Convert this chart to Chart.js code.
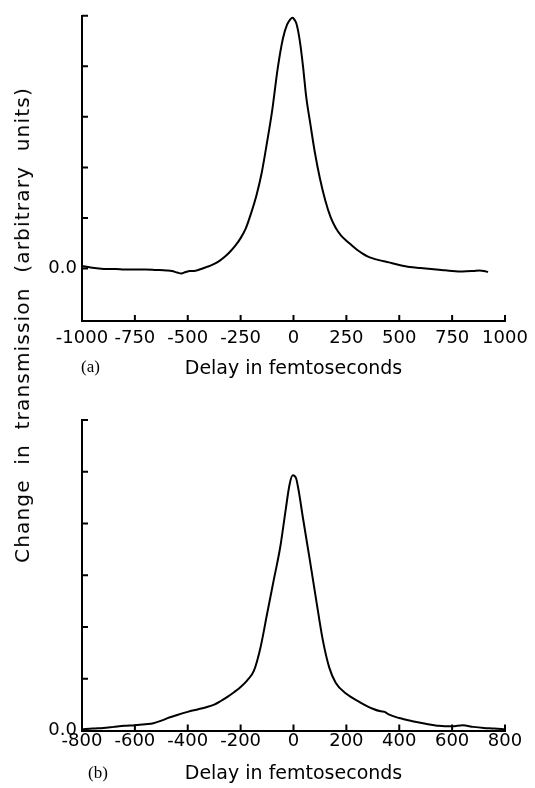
<!DOCTYPE html>
<html>
<head>
<meta charset="utf-8">
<script src="https://cdn.jsdelivr.net/npm/chart.js@4.4.0/dist/chart.umd.min.js"></script>
<style>
  body { margin: 0; background: #fff; }
  #page { position: relative; width: 535px; height: 788px; overflow: hidden; }
  .panel { position: absolute; left: 0; width: 535px; }
  #boxA { top: 0; height: 395px; }
  #boxB { top: 395px; height: 393px; }
  #ytitle {
    position: absolute; left: 22px; top: 325px;
    transform: translate(-50%, -50%) rotate(-90deg);
    white-space: nowrap; font: 20px "DejaVu Sans"; color: #000;
    letter-spacing: 1.2px; word-spacing: 7px;
  }
  .tag { position: absolute; font: 17px "Liberation Serif"; line-height: 20px; color: #000; }
</style>
</head>
<body>
<div id="page">
  <div class="panel" id="boxA"><canvas id="chartA"></canvas></div>
  <div class="panel" id="boxB"><canvas id="chartB"></canvas></div>
  <div id="ytitle">Change in transmission (arbitrary units)</div>
  <div class="tag" style="left:81px; top:357px;">(a)</div>
  <div class="tag" style="left:88px; top:763px;">(b)</div>
</div>
<script>
// panel (a)
const delayA = [-1000, -960, -920, -880, -840, -800, -750, -700, -650, -600, -575, -550, -530, -510, -490, -470, -450, -430, -410, -390, -370, -350, -325, -300, -275, -250, -225, -200, -175, -150, -125, -100, -75, -50, -30, -15, -5, 5, 15, 30, 45, 60, 80, 100, 125, 150, 175, 200, 225, 250, 275, 300, 325, 350, 375, 400, 450, 500, 550, 600, 650, 700, 750, 800, 850, 880, 900, 920];
const signalA = [0.05, 0.02, 0.0, -0.01, -0.01, -0.02, -0.02, -0.02, -0.03, -0.04, -0.05, -0.08, -0.1, -0.07, -0.05, -0.05, -0.03, 0.0, 0.03, 0.06, 0.1, 0.15, 0.23, 0.33, 0.45, 0.6, 0.8, 1.1, 1.45, 1.9, 2.5, 3.15, 3.95, 4.55, 4.83, 4.93, 4.96, 4.92, 4.83, 4.5, 4.0, 3.4, 2.85, 2.32, 1.78, 1.35, 1.02, 0.8, 0.65, 0.55, 0.46, 0.37, 0.3, 0.24, 0.2, 0.17, 0.12, 0.07, 0.03, 0.01, -0.01, -0.03, -0.05, -0.06, -0.05, -0.04, -0.05, -0.07];
const xTicksA = [-1000, -750, -500, -250, 0, 250, 500, 750, 1000];
const yTicksA = [0, 1, 2, 3, 4, 5];

// panel (b)
const delayB = [-800, -760, -720, -680, -640, -600, -560, -530, -500, -470, -440, -400, -360, -330, -300, -275, -250, -225, -200, -175, -150, -125, -100, -75, -50, -30, -15, -3, 10, 20, 35, 60, 85, 110, 135, 160, 200, 250, 300, 330, 345, 360, 400, 450, 500, 550, 600, 640, 680, 720, 760, 800];
const signalB = [0.02, 0.04, 0.05, 0.07, 0.09, 0.1, 0.12, 0.14, 0.19, 0.25, 0.3, 0.36, 0.41, 0.45, 0.5, 0.57, 0.65, 0.74, 0.84, 0.97, 1.15, 1.6, 2.25, 2.9, 3.55, 4.25, 4.75, 4.93, 4.87, 4.62, 4.13, 3.35, 2.55, 1.77, 1.22, 0.92, 0.71, 0.55, 0.42, 0.37, 0.36, 0.31, 0.24, 0.18, 0.13, 0.09, 0.08, 0.1, 0.07, 0.05, 0.04, 0.02];
const xTicksB = [-800, -600, -400, -200, 0, 200, 400, 600, 800];
const yTicksB = [0, 1, 2, 3, 4, 5, 6];

const FONT = 'DejaVu Sans';

// tick marks point into the plot, as in the original
const inwardTicks = {
  id: 'inwardTicks',
  afterDatasetsDraw(chart, args, opts) {
    const { ctx, chartArea, scales } = chart;
    ctx.save();
    ctx.strokeStyle = '#000';
    ctx.lineWidth = 2;
    ctx.beginPath();
    scales.x.ticks.forEach(t => {
      const px = scales.x.getPixelForValue(t.value);
      ctx.moveTo(px, chartArea.bottom);
      ctx.lineTo(px, chartArea.bottom - opts.len);
    });
    scales.y.ticks.forEach(t => {
      const py = scales.y.getPixelForValue(t.value);
      ctx.moveTo(chartArea.left, py);
      ctx.lineTo(chartArea.left + opts.len, py);
    });
    ctx.stroke();
    ctx.restore();
  }
};

function makeChart(id, delay, signal, xt, yt, cfg) {
  const points = delay.map((d, i) => ({ x: d, y: signal[i] }));
  return new Chart(document.getElementById(id), {
    type: 'line',
    data: {
      datasets: [{
        data: points,
        borderColor: '#000',
        borderWidth: 2,
        pointRadius: 0,
        fill: false,
        cubicInterpolationMode: 'monotone'
      }]
    },
    options: {
      responsive: true,
      maintainAspectRatio: false,
      animation: false,
      layout: { padding: { top: cfg.top, right: 30, left: 0, bottom: 0 } },
      plugins: { legend: { display: false }, tooltip: { enabled: false }, inwardTicks: { len: 6 } },
      scales: {
        x: {
          type: 'linear',
          min: xt[0], max: xt[xt.length - 1],
          afterBuildTicks: s => { s.ticks = xt.map(v => ({ value: v })); },
          afterFit: s => { s.height = cfg.xHeight; },
          grid: { display: true, drawOnChartArea: false, drawTicks: false },
          border: { display: true, color: '#000', width: 2 },
          ticks: {
            autoSkip: false, maxRotation: 0, color: '#000', padding: cfg.labelPad,
            font: { family: FONT, size: 18 },
            callback: v => String(v)
          },
          title: {
            display: true, text: 'Delay in femtoseconds', color: '#000',
            font: { family: FONT, size: 19 },
            padding: { top: 0, bottom: cfg.titlePad }
          }
        },
        y: {
          type: 'linear',
          min: cfg.ymin, max: cfg.ymax,
          afterBuildTicks: s => { s.ticks = yt.map(v => ({ value: v })); },
          afterFit: s => { s.width = 82; },
          grid: { display: true, drawOnChartArea: false, drawTicks: false },
          border: { display: true, color: '#000', width: 2 },
          ticks: {
            color: '#000', padding: 5,
            font: { family: FONT, size: 18 },
            callback: v => (v === 0 ? '0.0' : '')
          }
        }
      }
    },
    plugins: [inwardTicks]
  });
}

makeChart('chartA', delayA, signalA, xTicksA, yTicksA,
  { top: 12, xHeight: 74, labelPad: 7, titlePad: 15, ymin: -1.04, ymax: 5 });
makeChart('chartB', delayB, signalB, xTicksB, yTicksB,
  { top: 25, xHeight: 57.5, labelPad: 0, titlePad: 3, ymin: 0, ymax: 6 });
</script>
</body>
</html>
